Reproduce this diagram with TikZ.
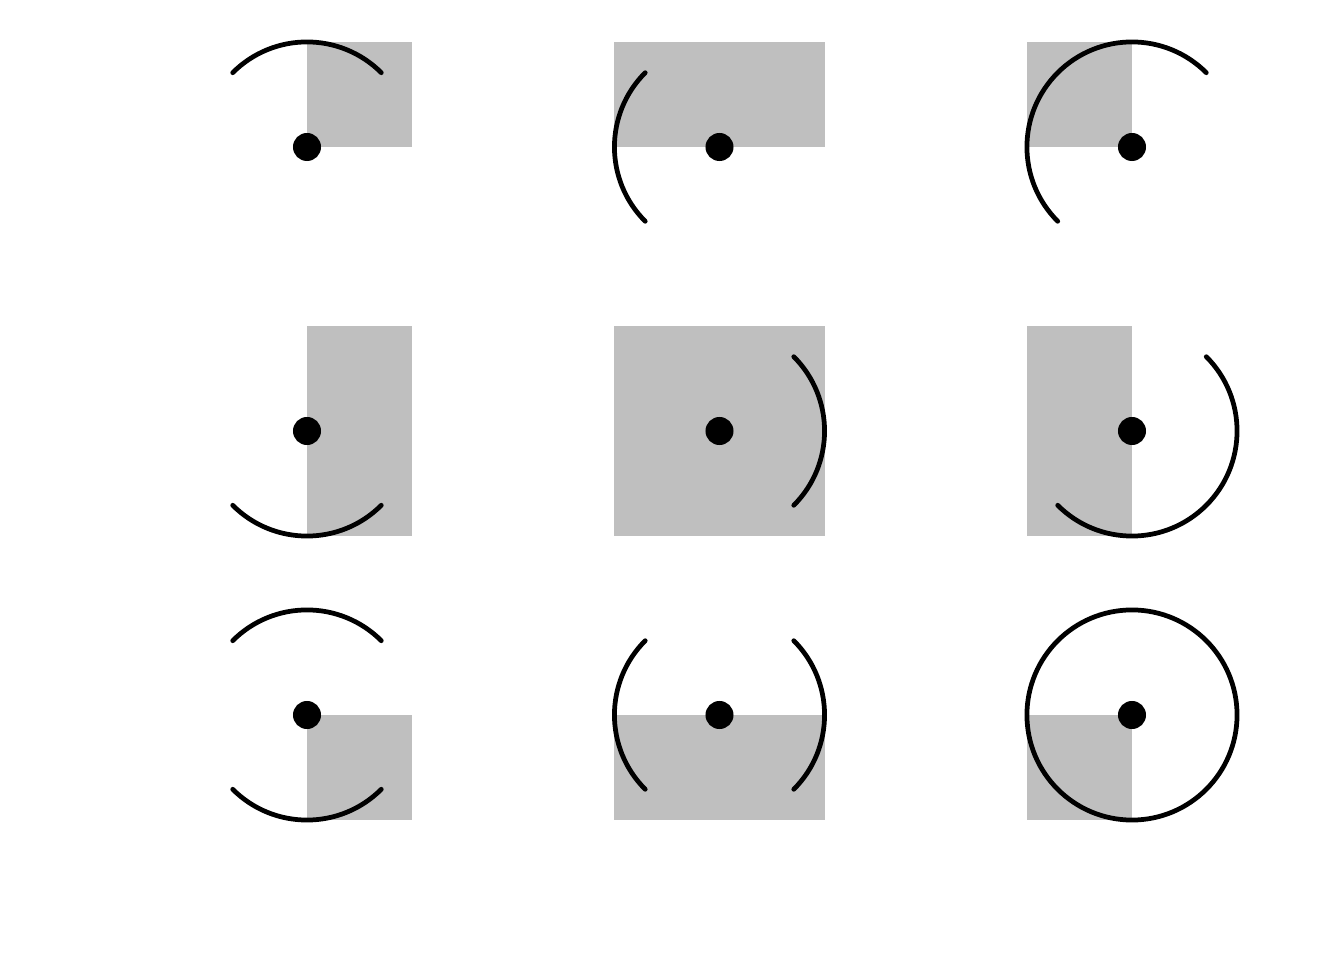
\documentclass[tikz,border=0pt]{standalone}
\begin{document}
\begin{tikzpicture}[x=0.01cm,y=0.01cm,
  shade/.style={fill=black!25},
  arcline/.style={draw=black,line width=1.35pt,line cap=round},
  dotfill/.style={fill=black}]
\useasboundingbox (0,0) rectangle (1344,960);
% Row 1 (Y=813)
\fill[shade] (307,813) rectangle (412,918);
\draw[arcline] (307,813) ++(45:1.05cm) arc[start angle=45,end angle=135,radius=1.05cm];
\fill[dotfill] (307,813) circle[radius=0.14cm];

\fill[shade] (614,813) rectangle (825,918);
\draw[arcline] (719.5,813) ++(135:1.05cm) arc[start angle=135,end angle=225,radius=1.05cm];
\fill[dotfill] (719.5,813) circle[radius=0.14cm];

\fill[shade] (1027,813) rectangle (1132,918);
\draw[arcline] (1132,813) ++(45:1.05cm) arc[start angle=45,end angle=225,radius=1.05cm];
\fill[dotfill] (1132,813) circle[radius=0.14cm];

% Row 2 (Y=529)
\fill[shade] (307,424) rectangle (412,634);
\draw[arcline] (307,529) ++(225:1.05cm) arc[start angle=225,end angle=315,radius=1.05cm];
\fill[dotfill] (307,529) circle[radius=0.14cm];

\fill[shade] (614,424) rectangle (825,634);
\draw[arcline] (719.5,529) ++(-45:1.05cm) arc[start angle=-45,end angle=45,radius=1.05cm];
\fill[dotfill] (719.5,529) circle[radius=0.14cm];

\fill[shade] (1027,424) rectangle (1132,634);
\draw[arcline] (1132,529) ++(-135:1.05cm) arc[start angle=-135,end angle=45,radius=1.05cm];
\fill[dotfill] (1132,529) circle[radius=0.14cm];

% Row 3 (Y=245)
\fill[shade] (307,140) rectangle (412,245);
\draw[arcline] (307,245) ++(45:1.05cm) arc[start angle=45,end angle=135,radius=1.05cm];
\draw[arcline] (307,245) ++(225:1.05cm) arc[start angle=225,end angle=315,radius=1.05cm];
\fill[dotfill] (307,245) circle[radius=0.14cm];

\fill[shade] (614,140) rectangle (825,245);
\draw[arcline] (719.5,245) ++(135:1.05cm) arc[start angle=135,end angle=225,radius=1.05cm];
\draw[arcline] (719.5,245) ++(-45:1.05cm) arc[start angle=-45,end angle=45,radius=1.05cm];
\fill[dotfill] (719.5,245) circle[radius=0.14cm];

\fill[shade] (1027,140) rectangle (1132,245);
\draw[arcline] (1132,245) circle[radius=1.05cm];
\fill[dotfill] (1132,245) circle[radius=0.14cm];
\end{tikzpicture}
\end{document}
